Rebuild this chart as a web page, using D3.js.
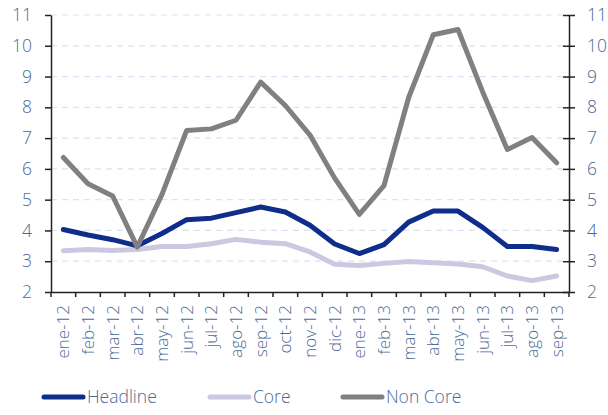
<!DOCTYPE html>
<html>
<head>
<meta charset="utf-8">
<script src="https://cdn.jsdelivr.net/npm/d3@7"></script>
<style>
  html, body { margin: 0; padding: 0; background: #fff; }
  svg { display: block; font-family: 'Open Sans', sans-serif; font-weight: 300; }
</style>
</head>
<body>
<div id="chart"></div>
<script>
const months = ['ene-12', 'feb-12', 'mar-12', 'abr-12', 'may-12', 'jun-12', 'jul-12', 'ago-12', 'sep-12', 'oct-12', 'nov-12',
  'dic-12', 'ene-13', 'feb-13', 'mar-13', 'abr-13', 'may-13', 'jun-13', 'jul-13', 'ago-13', 'sep-13']
const headline = [4.03, 3.85, 3.7, 3.5, 3.9, 4.35, 4.4, 4.58, 4.76, 4.6, 4.17, 3.56, 3.25, 3.54, 4.27, 4.63, 4.63, 4.1, 3.48, 3.48, 3.38]
const core = [3.34, 3.38, 3.35, 3.38, 3.48, 3.48, 3.57, 3.71, 3.62, 3.57, 3.3, 2.9, 2.86, 2.93, 2.99, 2.95, 2.91, 2.82, 2.52, 2.37, 2.52]
const nonCore = [6.37, 5.52, 5.12, 3.46, 5.17, 7.25, 7.3, 7.58, 8.82, 8.06, 7.1, 5.7, 4.52, 5.46, 8.32, 10.36, 10.53, 8.5, 6.63, 7.02, 6.2]
const yTicks = [2, 3, 4, 5, 6, 7, 8, 9, 10, 11]

const config = {
  width: 608,
  height: 415,
  margin: { top: 15, right: 39, bottom: 123, left: 51 },
  colors: {
    text: '#4a6998',
    axis: '#222222',
    grid: '#d8e3f4',
    headline: '#0f2d8a',
    core: '#cbc8e2',
    nonCore: '#808080'
  }
}

const series = [
  { name: 'Core', values: core, color: config.colors.core },
  { name: 'Headline', values: headline, color: config.colors.headline },
  { name: 'Non Core', values: nonCore, color: config.colors.nonCore }
]
const legendOrder = ['Headline', 'Core', 'Non Core']

const innerW = config.width - config.margin.left - config.margin.right
const innerH = config.height - config.margin.top - config.margin.bottom

const svg = d3.select('#chart').append('svg')
  .attr('width', config.width)
  .attr('height', config.height)

const g = svg.append('g').attr('transform', `translate(${config.margin.left},${config.margin.top})`)

const x = d3.scaleBand().domain(months).range([0, innerW]).padding(0)
const y = d3.scaleLinear().domain([2, 11]).range([innerH, 0])

// gridlines
g.append('g')
  .selectAll('line')
  .data(yTicks.filter((d) => d > 2))
  .enter()
  .append('line')
  .attr('x1', 0)
  .attr('x2', innerW)
  .attr('y1', (d) => y(d))
  .attr('y2', (d) => y(d))
  .attr('stroke', config.colors.grid)
  .attr('stroke-width', 1.2)
  .attr('stroke-dasharray', '6,5')

const styleAxis = (sel) => {
  sel.select('.domain').attr('stroke', config.colors.axis).attr('stroke-width', 1.5)
  sel.selectAll('.tick line').attr('stroke', config.colors.axis).attr('stroke-width', 1.5)
  sel.selectAll('.tick text')
    .style('fill', config.colors.text)
    .style('font-size', '17.5px')
    .style('font-weight', '300')
    .style('font-family', "'Open Sans', sans-serif")
}

// left axis
g.append('g')
  .call(d3.axisLeft(y).tickValues(yTicks).tickSize(6).tickPadding(13).tickSizeOuter(0))
  .call(styleAxis)

// right axis
g.append('g')
  .attr('transform', `translate(${innerW},0)`)
  .call(d3.axisRight(y).tickValues(yTicks).tickSize(6).tickPadding(12).tickSizeOuter(0))
  .call(styleAxis)
  .call((a) => a.selectAll('.tick line').attr('x1', -6))

// bottom axis: labels at centres, ticks at category boundaries
const xAxis = g.append('g')
  .attr('transform', `translate(0,${innerH})`)
  .call(d3.axisBottom(x).tickSize(0).tickPadding(0).tickSizeOuter(0))
  .call(styleAxis)

xAxis.selectAll('.tick text')
  .attr('transform', 'rotate(-90)')
  .attr('text-anchor', 'end')
  .attr('dy', '0.35em')
  .attr('x', -13)
  .attr('y', 0)
  .style('font-size', '17px')

xAxis.selectAll('.bound')
  .data(months)
  .enter()
  .append('line')
  .attr('class', 'bound')
  .attr('x1', (d) => x(d))
  .attr('x2', (d) => x(d))
  .attr('y1', 0)
  .attr('y2', 5)
  .attr('stroke', config.colors.axis)
  .attr('stroke-width', 1.5)

xAxis.append('line')
  .attr('x1', innerW)
  .attr('x2', innerW)
  .attr('y1', 0)
  .attr('y2', 5)
  .attr('stroke', config.colors.axis)
  .attr('stroke-width', 1.5)

// lines
const line = d3.line()
  .x((d, i) => x(months[i]) + x.bandwidth() / 2)
  .y((d) => y(d))

g.append('g')
  .selectAll('path')
  .data(series)
  .enter()
  .append('path')
  .attr('d', (d) => line(d.values))
  .attr('fill', 'none')
  .attr('stroke', (d) => d.color)
  .attr('stroke-width', 5)
  .attr('stroke-linejoin', 'round')
  .attr('stroke-linecap', 'round')

// legend
const legendX = [42, 208, 341]
const legend = svg.append('g').attr('transform', 'translate(0,397)')
legendOrder.forEach((name, i) => {
  const s = series.find((d) => d.name === name)
  legend.append('line')
    .attr('x1', legendX[i] + 2)
    .attr('x2', legendX[i] + 41)
    .attr('y1', 0)
    .attr('y2', 0)
    .attr('stroke', s.color)
    .attr('stroke-width', 5)
    .attr('stroke-linecap', 'round')
  legend.append('text')
    .attr('x', legendX[i] + 45)
    .attr('y', 0)
    .attr('dy', '0.36em')
    .text(name)
    .style('font-size', '17.5px')
    .style('font-weight', '300')
    .style('fill', config.colors.text)
})
</script>
</body>
</html>
